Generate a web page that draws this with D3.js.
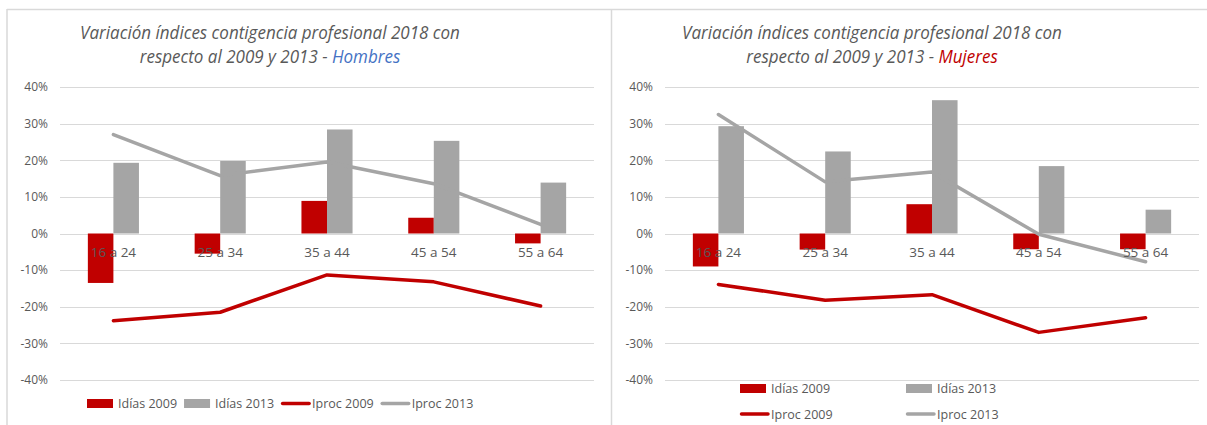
<!DOCTYPE html>
<html>
<head>
<meta charset="utf-8">
<script src="https://cdnjs.cloudflare.com/ajax/libs/d3/7.8.5/d3.min.js"></script>
<style>
  body { margin: 0; background: #fff; }
  svg { display: block; font-family: "Open Sans", sans-serif; }
</style>
</head>
<body>
<svg id="chart" width="1207" height="425"></svg>
<script>
// categorías y valores
const categories = ["16 a 24", "25 a 34", "35 a 44", "45 a 54", "55 a 64"];
const yTicks = [-0.4, -0.3, -0.2, -0.1, 0, 0.1, 0.2, 0.3, 0.4];
const seriesNames = ["Idías 2009", "Idías 2013", "Iproc 2009", "Iproc 2013"];

const hombresIdias2009 = [-0.135, -0.055, 0.089, 0.043, -0.027];
const hombresIdias2013 = [0.193, 0.198, 0.284, 0.253, 0.139];
const hombresIproc2009 = [-0.238, -0.215, -0.113, -0.132, -0.198];
const hombresIproc2013 = [0.270, 0.158, 0.195, 0.136, 0.025];

const mujeresIdias2009 = [-0.090, -0.044, 0.080, -0.043, -0.043];
const mujeresIdias2013 = [0.293, 0.224, 0.364, 0.184, 0.065];
const mujeresIproc2009 = [-0.139, -0.182, -0.167, -0.270, -0.230];
const mujeresIproc2013 = [0.325, 0.141, 0.168, -0.002, -0.077];

const RED = "#c00000", GREY = "#a5a5a5", TXT = "#595959", GRID = "#d9d9d9";

const svg = d3.select("#chart");

// marcos de los dos paneles
svg.append("line").attr("x1", 7).attr("x2", 1207).attr("y1", 9.5).attr("y2", 9.5)
  .attr("stroke", GRID).attr("stroke-width", 1.5);
[7, 611.5].forEach(function(x) {
  svg.append("line").attr("x1", x).attr("x2", x).attr("y1", 9).attr("y2", 425)
    .attr("stroke", GRID).attr("stroke-width", 1.5);
});

function drawPanel(cfg) {
  const g = svg.append("g");

  const x = d3.scaleBand().domain(categories).range([cfg.left, cfg.right]);
  const x1 = d3.scaleBand().domain(["a", "b"]).range([0, x.bandwidth()]).paddingOuter(1.09);
  const y = d3.scaleLinear().domain([-0.4, 0.4]).range([380, 87]);

  // título
  const t1 = g.append("text").attr("x", cfg.titleX).attr("y", 39.5)
    .attr("text-anchor", "middle").attr("font-style", "italic")
    .attr("font-size", 17.5).attr("fill", TXT)
    .text("Variación índices contigencia profesional 2018 con");
  const t2 = g.append("text").attr("x", cfg.titleX).attr("y", 63)
    .attr("text-anchor", "middle").attr("font-style", "italic")
    .attr("font-size", 17.5).attr("fill", TXT);
  t2.append("tspan").text("respecto al 2009 y 2013 - ");
  t2.append("tspan").attr("fill", cfg.accent).text(cfg.who);
  const k = 380 / t1.node().getComputedTextLength();
  [t1, t2].forEach(function(t) {
    t.attr("transform", "translate(" + cfg.titleX + ",0) scale(" + k + ",1) translate(" + (-cfg.titleX) + ",0)");
  });

  // rejilla
  g.selectAll("line.grid").data(yTicks).enter().append("line")
    .attr("x1", cfg.left).attr("x2", cfg.right)
    .attr("y1", d => Math.round(y(d)) + 0.5).attr("y2", d => Math.round(y(d)) + 0.5)
    .attr("stroke", GRID).attr("stroke-width", 1);

  const axis = d3.axisLeft(y).tickValues(yTicks).tickSize(0).tickPadding(12)
    .tickFormat(d => Math.round(d * 100) + "%");
  const ax = g.append("g").attr("transform", "translate(" + cfg.left + ",0)").call(axis);
  ax.select(".domain").remove();
  ax.selectAll("text").attr("font-size", 12).attr("fill", TXT)
    .attr("font-family", "'Open Sans', sans-serif");

  // barras
  [[cfg.idias2009, "a", RED], [cfg.idias2013, "b", GREY]].forEach(function(s) {
    g.selectAll(null).data(s[0]).enter().append("rect")
      .attr("x", (d, i) => x(categories[i]) + x1(s[1]))
      .attr("width", x1.bandwidth())
      .attr("y", d => y(Math.max(0, d)))
      .attr("height", d => Math.abs(y(d) - y(0)))
      .attr("fill", s[2]);
  });

  // líneas
  const line = d3.line()
    .x((d, i) => x(categories[i]) + x.bandwidth() / 2)
    .y(d => y(d));
  [[cfg.iproc2009, RED], [cfg.iproc2013, GREY]].forEach(function(s) {
    g.append("path").datum(s[0]).attr("d", line)
      .attr("fill", "none").attr("stroke", s[1]).attr("stroke-width", 3.5)
      .attr("stroke-linecap", "round").attr("stroke-linejoin", "round");
  });

  // etiquetas de categorías
  g.selectAll("text.cat").data(categories).enter().append("text")
    .attr("x", d => x(d) + x.bandwidth() / 2).attr("y", 256.5)
    .attr("text-anchor", "middle").attr("font-size", 13.5).attr("fill", TXT)
    .text(d => d);

  // leyenda
  const kinds = ["rect", "rect", "line", "line"];
  const colors = [RED, GREY, RED, GREY];
  seriesNames.forEach(function(name, i) {
    const pos = cfg.legendPos(i);
    if (kinds[i] === "rect") {
      g.append("rect").attr("x", pos.x).attr("y", pos.y - 4.5).attr("width", 26).attr("height", 9)
        .attr("fill", colors[i]);
    } else {
      g.append("line").attr("x1", pos.x + 1.5).attr("x2", pos.x + 28).attr("y1", pos.y).attr("y2", pos.y)
        .attr("stroke", colors[i]).attr("stroke-width", 3.5).attr("stroke-linecap", "round");
    }
    const tx = g.append("text").attr("x", pos.x + 31).attr("y", pos.y + 4.5)
      .attr("font-size", 12.5).attr("fill", TXT).text(name);
    if (cfg.flow) cfg.flow.next = pos.x + 31 + tx.node().getComputedTextLength() + 7;
  });
}

// Hombres: leyenda en una fila
const flowL = { next: 87 };
drawPanel({
  left: 60, right: 594, titleX: 270, who: "Hombres", accent: "#4472c4",
  idias2009: hombresIdias2009, idias2013: hombresIdias2013,
  iproc2009: hombresIproc2009, iproc2013: hombresIproc2013,
  flow: flowL,
  legendPos: function(i) { return { x: flowL.next, y: 403.5 }; }
});

// Mujeres: leyenda en dos filas
drawPanel({
  left: 665, right: 1199, titleX: 872, who: "Mujeres", accent: RED,
  idias2009: mujeresIdias2009, idias2013: mujeresIdias2013,
  iproc2009: mujeresIproc2009, iproc2013: mujeresIproc2013,
  legendPos: function(i) { return { x: i % 2 === 0 ? 740 : 906, y: i < 2 ? 388.5 : 414 }; }
});
</script>
</body>
</html>
